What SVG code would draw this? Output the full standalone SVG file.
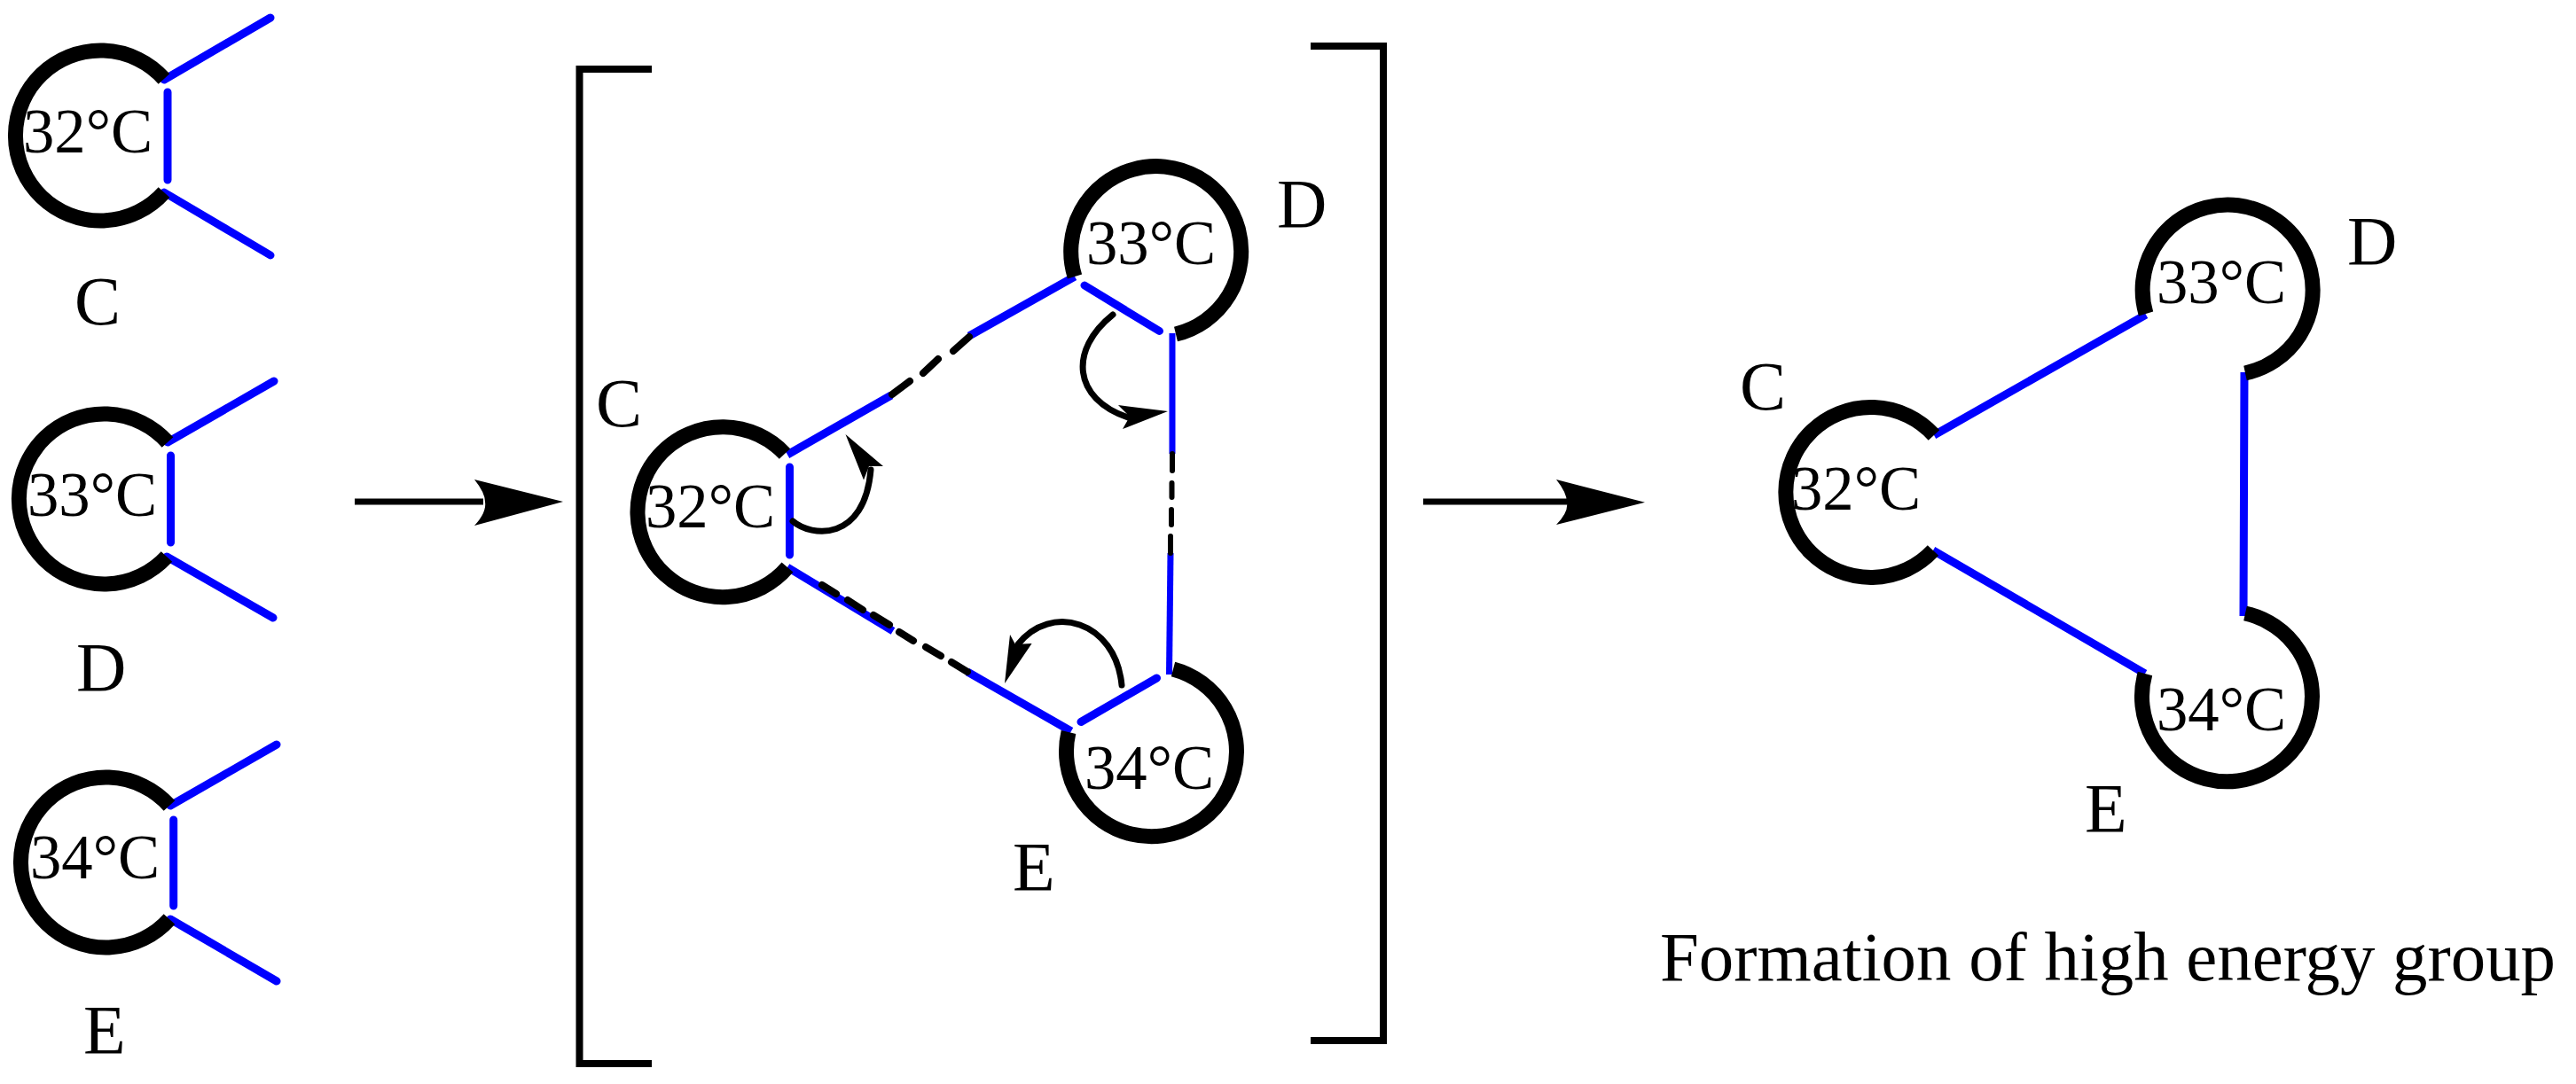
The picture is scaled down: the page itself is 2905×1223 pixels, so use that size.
<svg xmlns="http://www.w3.org/2000/svg" width="2905" height="1223" viewBox="0 0 2905 1223">
<style>
text{font-family:"Liberation Serif","Times New Roman",serif;fill:#000}
.t{font-size:72px}
.l{font-size:78px}
.arc{fill:none;stroke:#000;stroke-width:17}
.b{fill:none;stroke:#0000ff;stroke-width:9;stroke-linecap:round}
.bt{fill:none;stroke:#0000ff;stroke-width:7;stroke-linecap:butt}
.d{fill:none;stroke:#000;stroke-width:8;stroke-linecap:round}
.br{fill:none;stroke:#000;stroke-width:8}
.ln{fill:none;stroke:#000;stroke-width:7}
.c{fill:none;stroke:#000;stroke-width:7;stroke-linecap:round}
.h{fill:#000}
</style>
<rect width="2905" height="1223" fill="#fff"/>

<g id="connectors">
<path class="b" d="M185 90L305 20M189 104V203M185 217L305 288"/>
<path class="b" d="M189 499L309 430M192.500 514V612M188 628L308 697"/>
<path class="b" d="M192 909L312 840M195.700 925V1022M192 1037L312 1107"/>
<path class="ln" d="M400 566H545"/>
<path class="h" d="M535 541L635 566L535 593Q549 578 547 566Q547 556 535 541Z"/>
<path class="ln" d="M1605 566H1770"/>
<path class="h" d="M1755 541L1855 566.700L1755 592Q1769 578 1767 566.700Q1767 556 1755 541Z"/>
<path class="br" d="M735 78H653.500V1200H735"/>
<path class="br" d="M1478 52H1560V1174H1478"/>
<path class="b" style="stroke-linecap:butt" d="M1212 312L1093 379M1005 446L888 513"/>
<path class="d" d="M1093 380L1075 396M1058 405L1041 421M1026 430L1006 445"/>
<path class="b" d="M1223 322L1307.500 373.500M890.500 527V626M1219 814.500L1304.500 765"/>
<path class="bt" d="M1322 376V512"/>
<path class="bt" d="M1320 624L1318.500 761"/>
<path class="d" style="stroke-width:6" d="M1322 512V531M1321.500 545V561M1321 575V592M1320 605V624"/>
<path class="b" style="stroke-linecap:butt" d="M888 640L1007 712M1091 758L1208 825"/>
<path class="d" d="M927 660L943 670M956 677L973 688M985 694L1003 705M1014 713L1030 723M1044 730L1061 740M1073 747L1091 758"/>
<path class="c" d="M894 588C915 606 975 612 982 530"/>
<path class="h" d="M953.500 490L996 526L980 526L974 541.500Z"/>
<path class="c" d="M1255 355C1205 395 1210 450 1272 471"/>
<path class="h" d="M1317 464L1266 484L1274 470L1261 457Z"/>
<path class="c" d="M1265 773C1258 700 1185 680 1148 727"/>
<path class="h" d="M1133 771L1139 716L1145 727L1163.600 726Z"/>
<path class="b" style="stroke-linecap:butt" d="M2181 491L2420 355M2180 621L2419 760M2531 420L2530 695"/>
</g>

<g id="node-left-c"><path class="arc" d="M185 89A96 96 0 1 0 185 217"/><text class="t" x="26" y="172" textLength="146" lengthAdjust="spacingAndGlyphs">32°C</text><text class="l" x="84" y="366">C</text></g>
<g id="node-left-d"><path class="arc" d="M189 499A96 96 0 1 0 188 628"/><text class="t" x="31" y="582" textLength="146" lengthAdjust="spacingAndGlyphs">33°C</text><text class="l" x="86" y="779">D</text></g>
<g id="node-left-e"><path class="arc" d="M191 909A96 96 0 1 0 191 1037"/><text class="t" x="34" y="991" textLength="146" lengthAdjust="spacingAndGlyphs">34°C</text><text class="l" x="94" y="1188">E</text></g>

<g id="node-mid-c"><path class="arc" d="M885 512A96 96 0 1 0 888 640"/><text class="t" x="728" y="595" textLength="146" lengthAdjust="spacingAndGlyphs">32°C</text><text class="l" x="672" y="481">C</text></g>
<g id="node-mid-d"><path class="arc" d="M1212 312A96 96 0 1 1 1326 377"/><text class="t" x="1225" y="298" textLength="146" lengthAdjust="spacingAndGlyphs">33°C</text><text class="l" x="1440" y="256">D</text></g>
<g id="node-mid-e"><path class="arc" d="M1323 755A96 96 0 1 1 1205 826"/><text class="t" x="1223" y="890" textLength="146" lengthAdjust="spacingAndGlyphs">34°C</text><text class="l" x="1142" y="1004">E</text></g>

<g id="node-right-c"><path class="arc" d="M2181 491A96 96 0 1 0 2180 621"/><text class="t" x="2020" y="575" textLength="146" lengthAdjust="spacingAndGlyphs">32°C</text><text class="l" x="1962" y="462">C</text></g>
<g id="node-right-d"><path class="arc" d="M2420 354A96 96 0 1 1 2532 421"/><text class="t" x="2432" y="342" textLength="146" lengthAdjust="spacingAndGlyphs">33°C</text><text class="l" x="2647" y="298">D</text></g>
<g id="node-right-e"><path class="arc" d="M2532 692A96 96 0 1 1 2419 760"/><text class="t" x="2432" y="824" textLength="146" lengthAdjust="spacingAndGlyphs">34°C</text><text class="l" x="2351" y="938">E</text></g>

<text id="caption" style="font-size:78.4px" x="1872" y="1106" textLength="1010" lengthAdjust="spacingAndGlyphs">Formation of high energy group</text>
</svg>
